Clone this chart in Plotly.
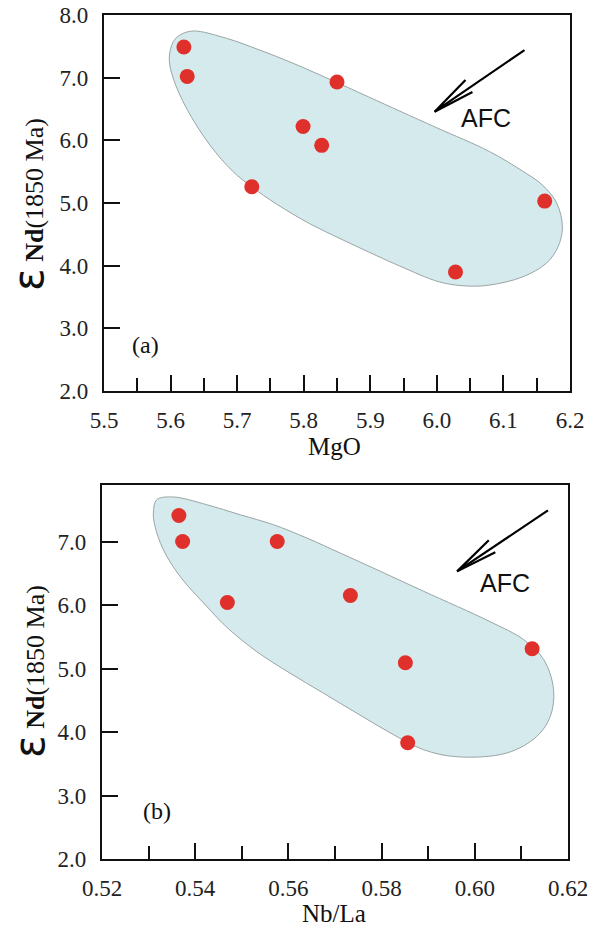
import plotly.graph_objects as go

# ---------------- data ----------------
# panel (a): MgO vs eps Nd
mgo = [5.620, 5.625, 5.722, 5.799, 5.827, 5.850, 6.028, 6.162]
end_a = [7.49, 7.02, 5.26, 6.22, 5.92, 6.93, 3.90, 5.03]

# field outline (a)
field_a_x = [5.634, 5.684, 5.734, 5.784, 5.849, 5.944, 6.000, 6.079, 6.1286, 6.1586,
             6.180, 6.1886, 6.182, 6.1646, 6.1286, 6.079, 6.0445, 6.004, 5.944, 5.909,
             5.859, 5.809, 5.759, 5.7216, 5.694, 5.659, 5.624, 5.604, 5.598, 5.604,
             5.614, 5.634]
field_a_y = [7.745, 7.628, 7.44, 7.23, 6.926, 6.468, 6.20, 5.822, 5.51, 5.287,
             5.00, 4.617, 4.30, 4.04, 3.82, 3.69, 3.676, 3.74, 3.995, 4.162,
             4.41, 4.67, 4.984, 5.26, 5.50, 5.926, 6.51, 6.99, 7.31, 7.574,
             7.68, 7.745]

# AFC arrow (a): tail, tip, barbs
arrow_a_x = [6.1316, 5.9966, 6.043, None, 5.9966, 6.0535]
arrow_a_y = [7.44, 6.457, 6.963, None, 6.457, 6.77]

# panel (b): Nb/La vs eps Nd
nbla = [0.5365, 0.5373, 0.5469, 0.5576, 0.5733, 0.5851, 0.5856, 0.6123]
end_b = [7.41, 7.00, 6.04, 7.00, 6.15, 5.09, 3.83, 5.31]

field_b_x = [0.5353, 0.54248, 0.54963, 0.55678, 0.56396, 0.57111, 0.5797, 0.5890, 0.6033, 0.6105,
             0.6148, 0.6169, 0.6162, 0.6133, 0.6069, 0.5962, 0.5890, 0.5818, 0.57469, 0.56752,
             0.56037, 0.55322, 0.54678, 0.54248, 0.53675, 0.53316, 0.53138, 0.53102, 0.53175, 0.5353]
field_b_y = [7.701, 7.580, 7.422, 7.265, 7.055, 6.819, 6.532, 6.217, 5.737, 5.454,
             5.14, 4.67, 4.245, 3.93, 3.67, 3.61, 3.721, 3.989, 4.296, 4.611,
             4.926, 5.265, 5.650, 5.978, 6.45, 6.871, 7.238, 7.449, 7.658, 7.701]

arrow_b_x = [0.6157, 0.5962, 0.6030, None, 0.5962, 0.6044]
arrow_b_y = [7.49, 6.53, 7.02, None, 6.53, 6.83]

xticks_a = [5.5, 5.6, 5.7, 5.8, 5.9, 6.0, 6.1, 6.2]
yticks_a = [2.0, 3.0, 4.0, 5.0, 6.0, 7.0, 8.0]
xticks_b = [0.52, 0.54, 0.56, 0.58, 0.60, 0.62]
yticks_b = [2.0, 3.0, 4.0, 5.0, 6.0, 7.0]

# ---------------- styles ----------------
FILL = "#d5eaec"
EDGE = "#9aa5a6"
RED = "#e0302c"
AX = "#111111"
SERIF = "Liberation Serif"

fig = go.Figure()

def add_panel(fx, fy, px, py, ax, ay, xa, ya):
    fig.add_trace(go.Scatter(x=fx, y=fy, mode="lines", fill="toself", fillcolor=FILL,
                             line=dict(color=EDGE, width=1, shape="spline", smoothing=1.0),
                             xaxis=xa, yaxis=ya, hoverinfo="skip", showlegend=False))
    fig.add_trace(go.Scatter(x=px, y=py, mode="markers",
                             marker=dict(color=RED, size=15, line=dict(width=0)),
                             xaxis=xa, yaxis=ya, showlegend=False))
    fig.add_trace(go.Scatter(x=ax, y=ay, mode="lines",
                             line=dict(color="black", width=2.2),
                             xaxis=xa, yaxis=ya, hoverinfo="skip", showlegend=False))

add_panel(field_a_x, field_a_y, mgo, end_a, arrow_a_x, arrow_a_y, "x", "y")
add_panel(field_b_x, field_b_y, nbla, end_b, arrow_b_x, arrow_b_y, "x2", "y2")

tickfont = dict(family=SERIF, size=23, color="#222")
common = dict(showline=True, linecolor=AX, linewidth=2.2, mirror=True, showgrid=False,
              zeroline=False, ticks="inside", tickcolor=AX, tickwidth=1.6,
              tickfont=tickfont, fixedrange=True, automargin=False)

fig.update_layout(
    width=591, height=931, margin=dict(l=0, r=0, t=0, b=0),
    paper_bgcolor="white", plot_bgcolor="white",
    xaxis=dict(domain=[104/591, 570/591], anchor="y", range=[5.5, 6.2],
               tickvals=xticks_a, tickformat=".1f", ticklen=16, ticklabelstandoff=7,
               minor=dict(dtick=0.05, tick0=5.5, ticks="inside", ticklen=13, tickcolor=AX, tickwidth=1.6),
               **common),
    yaxis=dict(domain=[1-391/931, 1-15/931], anchor="x", range=[2.0, 8.0],
               tickvals=yticks_a, tickformat=".1f", ticklen=16, ticklabelstandoff=9, **common),
    xaxis2=dict(domain=[102/591, 568/591], anchor="y2", range=[0.52, 0.62],
                tickvals=xticks_b, tickformat=".2f", ticklen=16, ticklabelstandoff=7,
                minor=dict(dtick=0.01, tick0=0.52, ticks="inside", ticklen=13, tickcolor=AX, tickwidth=1.6),
                **common),
    yaxis2=dict(domain=[1-859/931, 1-485/931], anchor="x2", range=[2.0, 7.89],
                tickvals=yticks_b, tickformat=".1f", ticklen=16, ticklabelstandoff=9, **common),
)

ytitle = ('<span style="font-family:DejaVu Sans;font-size:42px">ε</span>'
          '<span style="font-family:Liberation Serif;font-size:26px"><b> Nd</b>(1850 Ma)</span>')

for yc in [(1 - 205/931), (1 - 672/931)]:
    fig.add_annotation(xref="paper", yref="paper", x=29/591, y=yc, text=ytitle,
                       textangle=-90, showarrow=False, xanchor="center", yanchor="middle",
                       font=dict(family=SERIF, size=26, color="#111"))

# x-axis titles
fig.add_annotation(xref="paper", yref="paper", x=334/591, y=1-446/931, text="MgO",
                   showarrow=False, xanchor="center", yanchor="middle",
                   font=dict(family=SERIF, size=25, color="#111"))
fig.add_annotation(xref="paper", yref="paper", x=334/591, y=1-913/931, text="Nb/La",
                   showarrow=False, xanchor="center", yanchor="middle",
                   font=dict(family=SERIF, size=25, color="#111"))

fig.add_annotation(xref="x", yref="y", x=6.074, y=6.35, text="AFC", showarrow=False,
                   font=dict(family="Liberation Sans", size=25, color="#111"))
fig.add_annotation(xref="x2", yref="y2", x=0.6065, y=6.35, text="AFC", showarrow=False,
                   font=dict(family="Liberation Sans", size=25, color="#111"))
fig.add_annotation(xref="x", yref="y", x=5.563, y=2.73, text="(a)", showarrow=False,
                   font=dict(family=SERIF, size=24, color="#111"))
fig.add_annotation(xref="x2", yref="y2", x=0.5318, y=2.76, text="(b)", showarrow=False,
                   font=dict(family=SERIF, size=24, color="#111"))

fig.write_html("out.html")
